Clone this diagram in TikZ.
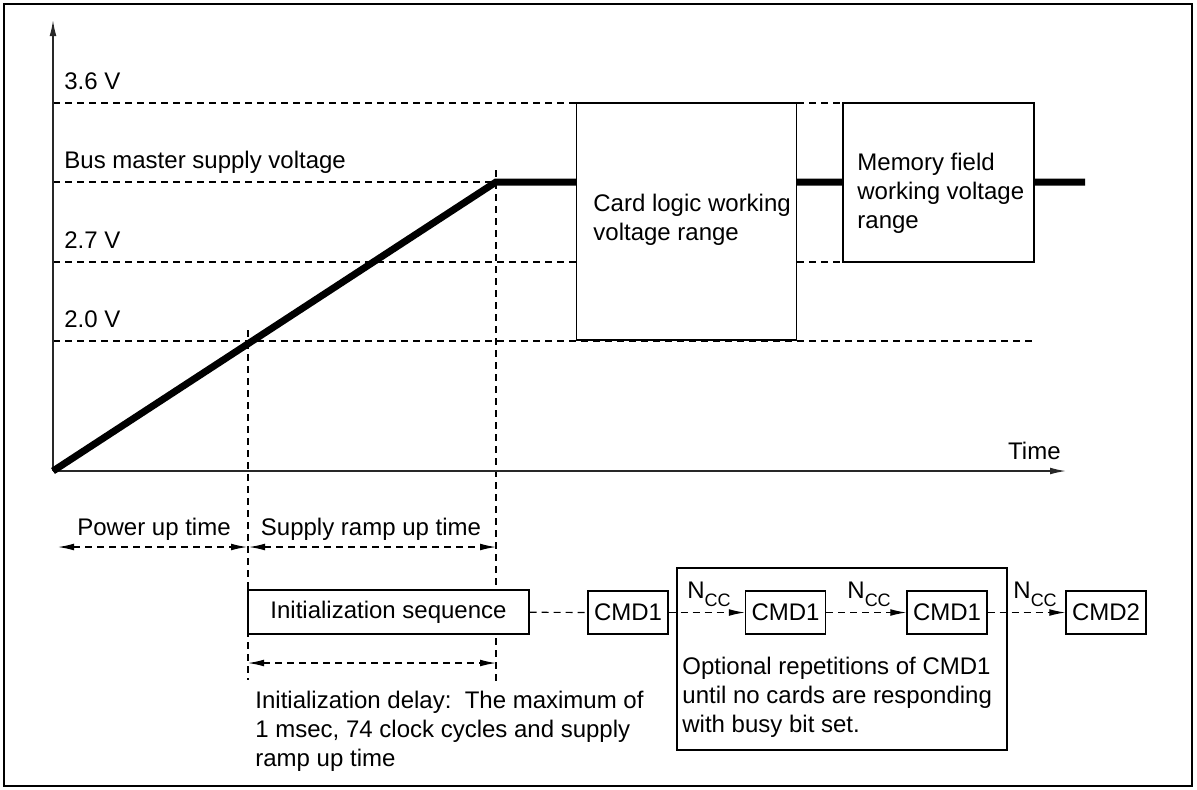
\documentclass[tikz,border=0pt]{standalone}
\usepackage{fontspec}
\setmainfont{Liberation Sans}
\usetikzlibrary{arrows.meta,calc}
\definecolor{LineClr}{RGB}{0,0,0}
\definecolor{AxisClr}{RGB}{40,40,40}
\newcommand{\ncc}{N\raisebox{-4pt}{\fontsize{9}{10}\selectfont CC}}

\begin{document}
\begin{tikzpicture}[x=0.5pt,y=-0.5pt,font=\fontsize{12}{14.4}\selectfont,
  dashln/.style={line width=0.6pt,dash pattern=on 3.5pt off 2.5pt},
  onearrow/.style={-{Latex[length=8pt,width=3.4pt]}},
  twoarrow/.style={{Latex[length=8pt,width=3.4pt]}-{Latex[length=8pt,width=3.4pt]}},
  framebox/.style={draw=LineClr,line width=0.65pt,fill=white,inner sep=0pt},
  cmdbox/.style={framebox,minimum width=40pt,minimum height=21.5pt},
  lbl/.style={inner sep=0pt,anchor=base west}]

\useasboundingbox (0,0) rectangle (1197,789);
\draw[line width=1pt] (4,4) rectangle (1192,786);

\coordinate (O) at (53,471);
\coordinate (Ytop) at (53,20);
\coordinate (Xend) at (1066,471);
\coordinate (R) at (496,182);
\coordinate (E) at (1085,182);

% voltage levels
\draw[dashln] (53,103) -- (1034,103);
\draw[dashln] (53,182) -- (R);
\draw[dashln] (53,262) -- (843,262);
\draw[dashln] (53,341) -- (1034,341);
\draw[dashln] (248,330) -- (248,680);
\draw[dashln] (496,170) -- (496,683);

\draw[line width=0.7pt,color=AxisClr,onearrow] (O) -- (Ytop);
\draw[line width=0.7pt,color=AxisClr,onearrow] (O) -- (Xend);
\draw[line width=3.5pt] (O) -- (R) -- (E);

\node[framebox,minimum width=110pt,minimum height=118.5pt] (card) at (686.5,221.5) {};
\node[framebox,minimum width=95.5pt,minimum height=79.5pt] (mem) at (938.5,182.5) {};

\node[lbl] (t36) at (64,89) {3.6 V};
\node[lbl] (tbus) at (64,168) {Bus master supply voltage};
\node[lbl] (t27) at (64,248) {2.7 V};
\node[lbl] (t20) at (64,327) {2.0 V};
\node[lbl,anchor=base east] (ttime) at (1061,459) {Time};
\node[lbl,align=left] (tcard) at (593,240) {Card logic working\\voltage range};
\node[lbl,align=left] (tmem) at (857,228) {Memory field\\working voltage\\range};

% time spans
\coordinate (P0) at (58,547);
\coordinate (P1) at (247,547);
\coordinate (P2) at (249,547);
\coordinate (P3) at (496,547);
\draw[dashln,twoarrow] (P0) -- (P1);
\draw[dashln,twoarrow] (P2) -- (P3);
\node[lbl,anchor=base] (tpow) at (154,535) {Power up time};
\node[lbl,anchor=base] (tsup) at (371,535) {Supply ramp up time};

\node[draw,line width=0.65pt,minimum width=165pt,minimum height=91pt] (rep) at (842,659) {};
\node[framebox,minimum width=140.5pt,minimum height=22pt] (init) at (388.5,612) {Initialization sequence};
\node[cmdbox] (cA) at (628,612.5) {CMD1};
\node[cmdbox] (cB) at (785.5,612.5) {CMD1};
\node[cmdbox] (cC) at (947,612.5) {CMD1};
\node[cmdbox] (cD) at (1106,612.5) {CMD2};

\draw[dashln] (init) -- (cA);
\draw[dashln,onearrow] (cA) -- (cB);
\draw[dashln,onearrow] (cB) -- (cC);
\draw[dashln,onearrow] (cC) -- (cD);
\node[lbl] (nA) at (687,598) {\ncc};
\node[lbl] (nB) at (847,598) {\ncc};
\node[lbl] (nC) at (1013,598) {\ncc};

\coordinate (D0) at (248,663);
\coordinate (D1) at (496,663);
\draw[dashln,twoarrow] (D0) -- (D1);
\node[lbl,align=left] (tdelay) at (255,766) {Initialization delay:\ \ The maximum of\\1 msec, 74 clock cycles and supply\\ramp up time};
\node[lbl,align=left] (trep) at (682,732) {Optional repetitions of CMD1\\until no cards are responding\\with busy bit set.};

\end{tikzpicture}
\end{document}
